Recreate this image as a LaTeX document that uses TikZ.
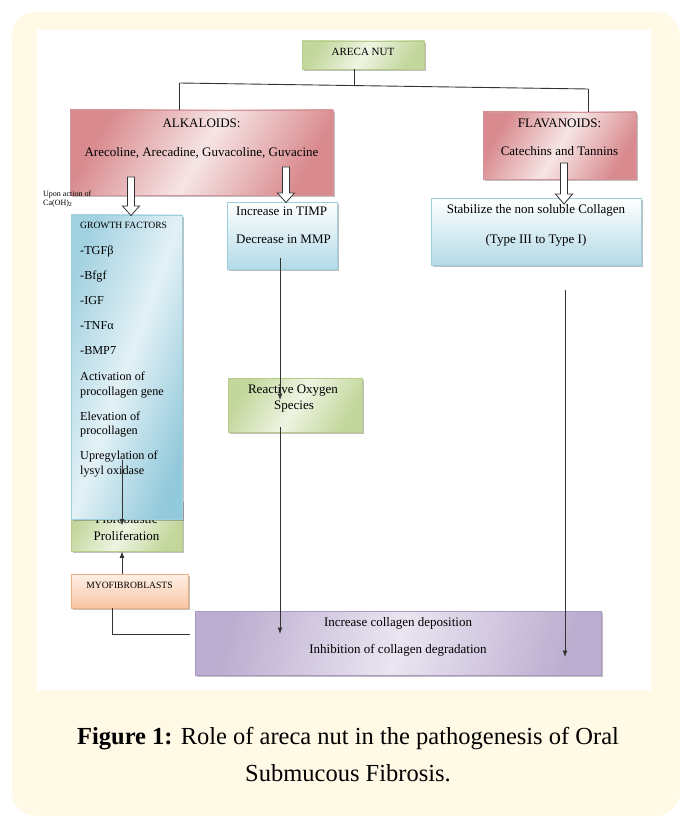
\documentclass[tikz,border=0pt]{standalone}
\usepackage{fontspec}
\setmainfont{Liberation Serif}
\usetikzlibrary{arrows.meta,shadows}
\definecolor{cream}{HTML}{FFF9E6}
\definecolor{lineC}{HTML}{333333}
\definecolor{redD}{HTML}{D98A8E}
\definecolor{redL}{HTML}{F6E5E5}
\definecolor{redB}{HTML}{D3959A}
\definecolor{blueD}{HTML}{92C9DB}
\definecolor{blueL}{HTML}{E3F1F6}
\definecolor{blueB}{HTML}{9DCFDF}
\definecolor{lblueD}{HTML}{B3DAE7}
\definecolor{greenD}{HTML}{C3D79C}
\definecolor{greenL}{HTML}{EEF4E2}
\definecolor{greenB}{HTML}{B6CD8A}
\definecolor{orT}{HTML}{FEF0E6}
\definecolor{orB}{HTML}{F8C5A3}
\definecolor{orBd}{HTML}{F0AC84}
\definecolor{purD}{HTML}{BCAED0}
\definecolor{purL}{HTML}{EAE5F1}
\definecolor{purB}{HTML}{A998C1}
\newcommand\fatarrow[4]{%
  \draw[fatarr] (#1-3.5,#2) -- (#1+3.5,#2) -- (#1+3.5,#3) -- (#1+8.5,#3)
    -- (#1,#4) -- (#1-8.5,#3) -- (#1-3.5,#3) -- cycle;}
\begin{document}
\begin{tikzpicture}[x=1pt,y=-1pt,
  box/.style={line width=0.8pt, inner sep=0pt,
    drop shadow={shadow xshift=1.5pt, shadow yshift=-1.8pt, opacity=0.35, fill=black!70}},
  redbox/.style={box, draw=redB, left color=redD, right color=redD, middle color=redL, shading angle=60},
  bluebox/.style={box, draw=blueB, left color=blueD!85, right color=blueD, middle color=blueL, shading angle=70},
  lbluebox/.style={box, draw=blueB, top color=white, bottom color=lblueD},
  greenbox/.style={box, draw=greenB, left color=greenD, right color=greenD, middle color=greenL, shading angle=60},
  orbox/.style={box, draw=orBd, top color=orT, bottom color=orB},
  purbox/.style={box, draw=purB, left color=purD, right color=purD, middle color=purL, shading angle=75},
  txt/.style={inner sep=0pt, text height=0.68em, text depth=0.2em, font=\fontsize{13}{15}\selectfont},
  gtxt/.style={txt, anchor=west, font=\fontsize{12.2}{14.6}\selectfont},
  conn/.style={draw=lineC, line width=0.9pt},
  arr/.style={conn, -{Latex[length=6.5pt,width=5pt]}},
  fatarr/.style={draw=black!80, line width=0.8pt, fill=white, line join=miter},
  captxt/.style={inner sep=0pt, font=\fontsize{24.5}{33}\selectfont}
]
\useasboundingbox (0,0) rectangle (682,818);
% background
\fill[white] (0,0) rectangle (682,818);
\fill[cream, rounded corners=24pt] (12,12) rectangle (680,816);
\fill[white] (37,30) rectangle (651,690);

% tree lines from areca nut
\coordinate (hl) at (179.5,83);
\coordinate (hr) at (588,89);
\coordinate (hm) at (354,85.6);
\draw[conn] (hl) -- (hr);

% boxes
\node[greenbox, minimum width=122pt, minimum height=28pt] (areca) at (363,55) {};
\node[redbox, minimum width=263pt, minimum height=85pt] (alk) at (201.5,152.5) {};
\node[redbox, minimum width=153pt, minimum height=67pt] (flav) at (559.5,145.5) {};
\node[lbluebox, minimum width=110pt, minimum height=67pt] (timp) at (282,235.5) {};
\node[lbluebox, minimum width=210pt, minimum height=67pt] (stab) at (536,231.5) {};
\node[greenbox, minimum width=134pt, minimum height=54pt] (ros) at (295,405) {};
\node[greenbox, minimum width=111pt, minimum height=51pt] (fibro) at (126.5,525.5) {};
\node[txt] (fibro1) at (126.5,521) {Fibroblastic};
\node[txt] (fibro2) at (126.5,538) {Proliferation};
\node[bluebox, minimum width=111pt, minimum height=304pt] (growth) at (126.5,367) {};
\node[orbox, minimum width=117pt, minimum height=34pt] (myo) at (129.5,591) {};
\node[purbox, minimum width=406pt, minimum height=64pt] (pur) at (398,643) {};

\draw[conn] (areca.south -| hm) -- (hm);
\draw[conn] (hl) -- (hl |- alk.north);
\draw[conn] (hr) -- (hr |- flav.north);

% texts
\node[txt, font=\fontsize{11}{13}\selectfont] (arecat) at (363,53) {ARECA NUT};
\node[txt] (alk1) at (201.5,125) {ALKALOIDS:};
\node[txt] (alk2) at (201.5,154) {Arecoline, Arecadine, Guvacoline, Guvacine};
\node[txt] (flav1) at (559.5,125) {FLAVANOIDS:};
\node[txt] (flav2) at (559.5,153) {Catechins and Tannins};
\node[txt, anchor=west] (timp1) at (236,213) {Increase in TIMP};
\node[txt, anchor=west] (timp2) at (236,241) {Decrease in MMP};
\node[txt] (stab1) at (536,211) {Stabilize the non soluble Collagen};
\node[txt] (stab2) at (536,241) {(Type III to Type I)};
\node[txt] (ros1) at (293,391) {Reactive Oxygen};
\node[txt] (ros2) at (294,407) {Species};
\node[txt] (pur1) at (398,624) {Increase collagen deposition};
\node[txt] (pur2) at (398,651) {Inhibition of collagen degradation};
\node[txt, font=\fontsize{9.6}{11}\selectfont] (myot) at (129.5,586) {MYOFIBROBLASTS};
\node[gtxt, font=\fontsize{9.6}{11}\selectfont] (gf0) at (80,226) {GROWTH FACTORS};
\node[gtxt] (gf1) at (80,252) {-TGF\char"03B2};
\node[gtxt] (gf2) at (80,277) {-Bfgf};
\node[gtxt] (gf3) at (80,302) {-IGF};
\node[gtxt] (gf4) at (80,327) {-TNF\char"03B1};
\node[gtxt] (gf5) at (80,352) {-BMP7};
\node[gtxt] (gf6) at (80,378) {Activation of};
\node[gtxt] (gf7) at (80,393) {procollagen gene};
\node[gtxt] (gf8) at (80,418) {Elevation of};
\node[gtxt] (gf9) at (80,432) {procollagen};
\node[gtxt] (gf10) at (80,457) {Upregylation of};
\node[gtxt] (gf11) at (80,472) {lysyl oxidase};
\node[anchor=west, inner sep=0pt, align=left, font=\fontsize{8}{8.5}\selectfont] (upon) at (43,199) {Upon action of\\Ca(OH)\textsubscript{2}};

% hollow arrows
\fatarrow{131}{177}{206}{215.5}
\fatarrow{286}{167}{193}{202.5}
\fatarrow{564}{163}{194}{204}

% thin connectors
\coordinate (g0) at (122,460);
\draw[arr] (g0) -- (g0 |- fibro1.south);
\draw[arr] (myo.north -| g0) -- (fibro.south -| g0);
\coordinate (m0) at (112,608);
\coordinate (m1) at (190,634);
\draw[conn] (myo.south -| m0) |- (m1);
\coordinate (t0) at (280,258);
\coordinate (t1) at (280,427);
\draw[arr] (t0) -- (280,400) coordinate (t2);
\draw[arr] (t1) -- (280,634) coordinate (t3);
\coordinate (s0) at (565,290);
\draw[arr] (s0) -- (565,657) coordinate (s1);

% caption
\node[captxt] (cap1) at (348,739) {\textbf{Figure 1:} Role of areca nut in the pathogenesis of Oral};
\node[captxt] (cap2) at (348,773) {Submucous Fibrosis.};
\end{tikzpicture}
\end{document}
